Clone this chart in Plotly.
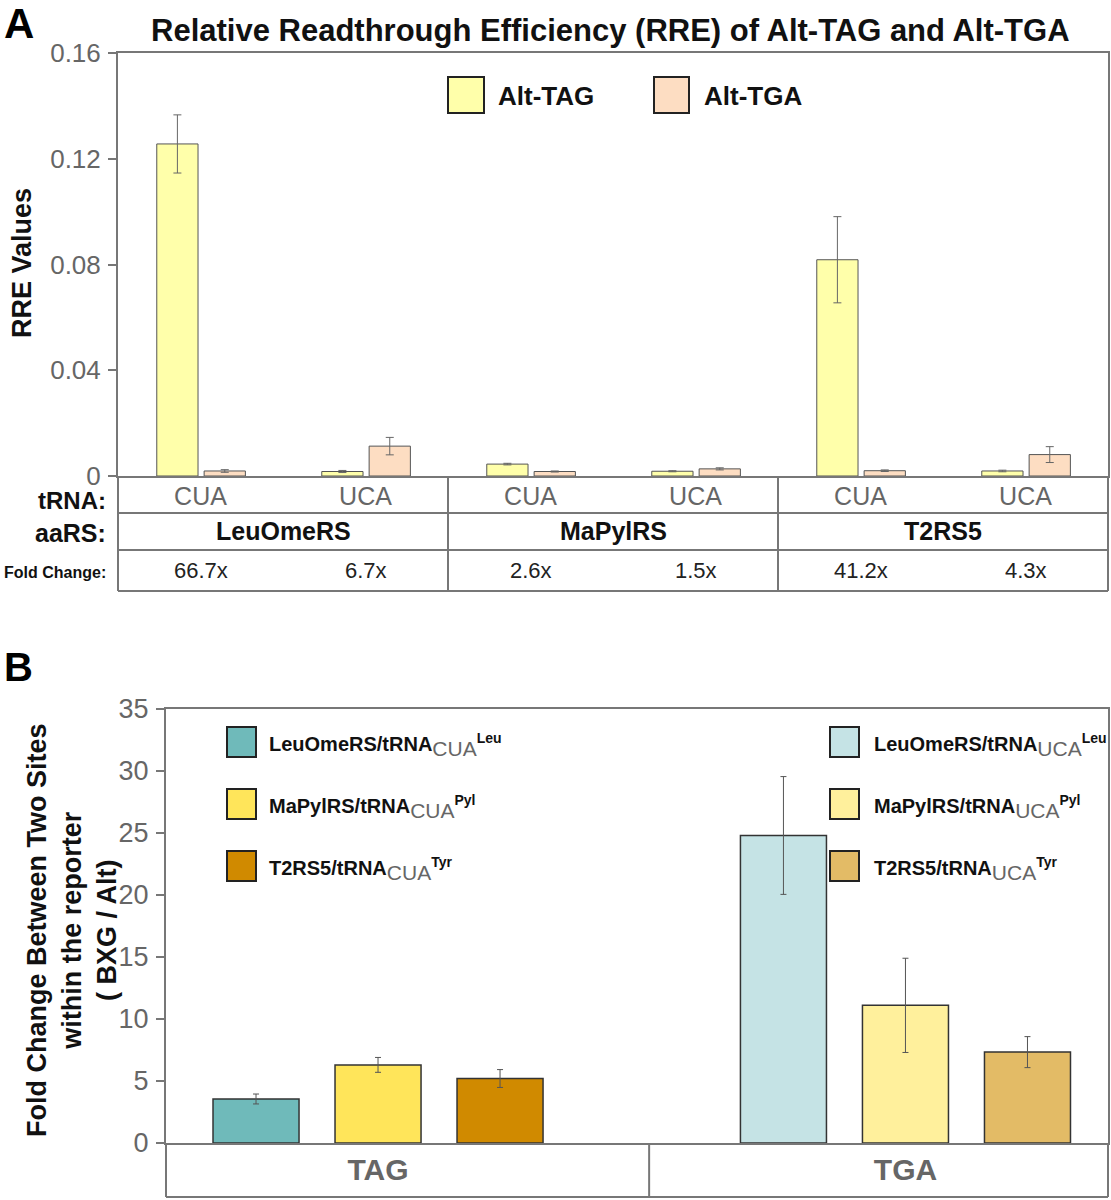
import plotly.graph_objects as go

W, H = 1111, 1200
FONT = "Liberation Sans, Arial, Helvetica, sans-serif"

# ---------------- Panel A data ----------------
aars_names = ["LeuOmeRS", "MaPylRS", "T2RS5"]
trna_labels = ["CUA", "UCA", "CUA", "UCA", "CUA", "UCA"]
conditions = ["LeuOmeRS CUA", "LeuOmeRS UCA", "MaPylRS CUA",
              "MaPylRS UCA", "T2RS5 CUA", "T2RS5 UCA"]
rre_tag = [0.1256, 0.0017, 0.0045, 0.0018, 0.0818, 0.0019]
rre_tag_err = [0.0110, 0.0004, 0.0003, 0.0002, 0.0163, 0.0003]
rre_tga = [0.0019, 0.0113, 0.0017, 0.0027, 0.0020, 0.0081]
rre_tga_err = [0.0005, 0.0033, 0.0002, 0.0004, 0.0003, 0.0030]
fold_change_a = ["66.7x", "6.7x", "2.6x", "1.5x", "41.2x", "4.3x"]
series_a = ["Alt-TAG", "Alt-TGA"]
colors_a = ["#FFFFAA", "#FDDDC2"]

# ---------------- Panel B data ----------------
codons = ["TAG", "TGA"]
enzymes = ["LeuOmeRS", "MaPylRS", "T2RS5"]
trna_aa = ["Leu", "Pyl", "Tyr"]
anticodon = ["CUA", "UCA"]
fold_tag = [3.55, 6.3, 5.2]
fold_tag_err = [0.40, 0.60, 0.72]
fold_tga = [24.8, 11.1, 7.33]
fold_tga_err = [4.75, 3.80, 1.25]
colors_tag = ["#6FBABA", "#FFE55A", "#D08A00"]
colors_tga = ["#C5E3E5", "#FFF09C", "#E3BB66"]

GRID = "#777777"
TICKC = "#666666"


def px(x):
    return x / W


def py(y):
    return 1 - y / H


fig = go.Figure()

# ---- Panel A bars ----
for vals, errs, name, col, off in [
    (rre_tag, rre_tag_err, series_a[0], colors_a[0], -0.265),
    (rre_tga, rre_tga_err, series_a[1], colors_a[1], 0.022),
]:
    fig.add_trace(go.Bar(
        x=conditions, y=vals, name=name, xaxis="x", yaxis="y",
        width=0.25, offset=off, showlegend=False,
        marker=dict(color=col, line=dict(color="#555555", width=1)),
        error_y=dict(type="data", array=errs, color="#666666", thickness=1, width=4),
    ))

# ---- Panel B bars ----
for i in range(3):
    for codon, vals, errs, cols, ac in [
        (codons[0], fold_tag, fold_tag_err, colors_tag, anticodon[0]),
        (codons[1], fold_tga, fold_tga_err, colors_tga, anticodon[1]),
    ]:
        fig.add_trace(go.Bar(
            x=[codon], y=[vals[i]], name=f"{enzymes[i]}/tRNA {ac} {trna_aa[i]}",
            xaxis="x2", yaxis="y2", offsetgroup=enzymes[i], showlegend=False,
            marker=dict(color=cols[i], line=dict(color="#333333", width=1.5)),
            error_y=dict(type="data", array=[errs[i]], color="#555555", thickness=1, width=3),
        ))

axis_common = dict(showline=True, linecolor=GRID, linewidth=2, mirror=True,
                   showgrid=False, zeroline=False, fixedrange=True, automargin=False)

shapes = []
annotations = []

# ---- Table for panel A ----
yA0, yA1, yA2, yA3 = 476, 513, 550, 591
xL, xR = 118, 1108
for yy in [yA1, yA2, yA3]:
    shapes.append(dict(type="line", xref="paper", yref="paper", x0=px(xL), x1=px(xR),
                       y0=py(yy), y1=py(yy), line=dict(color=GRID, width=2)))
for xx in [xL, xR]:
    shapes.append(dict(type="line", xref="paper", yref="paper", x0=px(xx), x1=px(xx),
                       y0=py(yA0), y1=py(yA3), line=dict(color=GRID, width=2)))
for k in [1.5, 3.5]:
    shapes.append(dict(type="line", xref="x", yref="paper", x0=k, x1=k,
                       y0=py(yA0), y1=py(yA3), line=dict(color=GRID, width=2)))

for txt, yy, sz in [("tRNA:", 500, 24), ("aaRS:", 533, 25), ("Fold Change:", 572, 16)]:
    annotations.append(dict(text=f"<b>{txt}</b>", xref="paper", yref="paper",
                            x=px(108), y=py(yy), xanchor="right", yanchor="middle",
                            showarrow=False, font=dict(size=sz, color="#111111")))
for i, nm in enumerate(aars_names):
    annotations.append(dict(text=f"<b>{nm}</b>", xref="x", yref="paper",
                            x=2 * i + 0.5, y=py(531), xanchor="center", yanchor="middle",
                            showarrow=False, font=dict(size=25, color="#111111")))
for cond, fc in zip(conditions, fold_change_a):
    annotations.append(dict(text=fc, xref="x", yref="paper", x=cond, y=py(570),
                            xanchor="center", yanchor="middle", showarrow=False,
                            font=dict(size=22, color="#222222")))

# ---- Legend for panel A ----
for (bx0, bx1), tx, name, col in [((448, 484), 496, series_a[0], colors_a[0]),
                                  ((654, 689), 702, series_a[1], colors_a[1])]:
    shapes.append(dict(type="rect", xref="paper", yref="paper", x0=px(bx0), x1=px(bx1),
                       y0=py(113), y1=py(77), fillcolor=col, line=dict(color="#222222", width=2)))
    annotations.append(dict(text=f"<b>{name}</b>", xref="paper", yref="paper", x=px(tx),
                            y=py(96), xanchor="left", yanchor="middle", showarrow=False,
                            font=dict(size=26, color="#111111")))

# ---- Titles / labels ----
annotations += [
    dict(text="<b>A</b>", xref="paper", yref="paper", x=px(19), y=py(23), xanchor="center",
         yanchor="middle", showarrow=False, font=dict(size=42, color="#000000")),
    dict(text="<b>B</b>", xref="paper", yref="paper", x=px(18), y=py(667), xanchor="center",
         yanchor="middle", showarrow=False, font=dict(size=40, color="#000000")),
    dict(text="<b>Relative Readthrough Efficiency (RRE) of Alt-TAG and Alt-TGA</b>",
         xref="paper", yref="paper", x=px(610), y=py(30), xanchor="center", yanchor="middle",
         showarrow=False, font=dict(size=31, color="#111111")),
    dict(text="<b>RRE Values</b>", xref="paper", yref="paper", x=px(22), y=py(263),
         xanchor="center", yanchor="middle", textangle=-90, showarrow=False,
         font=dict(size=27, color="#111111")),
    dict(text="<b>Fold Change Between Two Sites<br>within the reporter<br>( BXG / Alt)</b>",
         xref="paper", yref="paper", x=px(72), y=py(930), xanchor="center", yanchor="middle",
         textangle=-90, showarrow=False, align="center",
         font=dict(size=27, color="#111111")),
]

# ---- Table for panel B ----
yB0, yB1 = 1143, 1197
xBL, xBR = 166, 1108
shapes.append(dict(type="line", xref="paper", yref="paper", x0=px(xBL), x1=px(xBR),
                   y0=py(yB1), y1=py(yB1), line=dict(color=GRID, width=2)))
for xx in [xBL, xBR]:
    shapes.append(dict(type="line", xref="paper", yref="paper", x0=px(xx), x1=px(xx),
                       y0=py(yB0), y1=py(yB1), line=dict(color=GRID, width=2)))
shapes.append(dict(type="line", xref="x2", yref="paper", x0=0.514, x1=0.514,
                   y0=py(yB0), y1=py(yB1), line=dict(color=GRID, width=2)))

# ---- Legends for panel B ----
rows_y = [742, 804, 866]
for col_i, (bx0, tx, cols) in enumerate([(227, 267, colors_tag), (830, 872, colors_tga)]):
    for i in range(3):
        cy = rows_y[i]
        shapes.append(dict(type="rect", xref="paper", yref="paper", x0=px(bx0),
                           x1=px(bx0 + 29), y0=py(cy + 15), y1=py(cy - 15),
                           fillcolor=cols[i], line=dict(color="#222222", width=2)))
        label = (f"<b>{enzymes[i]}/tRNA</b><sub><span style='color:#666666;font-size:21px'>"
                 f"{anticodon[col_i]}</span></sub><sup><b>{trna_aa[i]}</b></sup>")
        annotations.append(dict(text=label, xref="paper", yref="paper", x=px(tx), y=py(cy + 3),
                                xanchor="left", yanchor="middle", showarrow=False,
                                font=dict(size=20, color="#111111")))

fig.update_layout(
    width=W, height=H,
    margin=dict(l=0, r=0, t=0, b=0, autoexpand=False),
    paper_bgcolor="white", plot_bgcolor="white",
    font=dict(family=FONT, color="#111111"),
    barmode="group", bargap=0.306, bargroupgap=0.295,
    showlegend=False,
    xaxis=dict(domain=[px(xL), px(xR)], anchor="y", type="category",
               categoryorder="array", categoryarray=conditions, range=[-0.5, 5.5],
               tickvals=conditions, ticktext=trna_labels, ticks="",
               tickfont=dict(size=25, color=TICKC), ticklabelstandoff=-3, **axis_common),
    yaxis=dict(domain=[py(yA0), py(53)], anchor="x", range=[0, 0.16], tick0=0, dtick=0.04,
               ticks="outside", ticklen=8, tickwidth=2, tickcolor=GRID,
               tickfont=dict(size=26, color=TICKC), ticklabelstandoff=2, **axis_common),
    xaxis2=dict(domain=[px(xBL), px(xBR)], anchor="y2", type="category",
                categoryorder="array", categoryarray=codons, range=[-0.402, 1.384],
                tickvals=codons, ticktext=[f"<b>{c}</b>" for c in codons], ticks="",
                tickfont=dict(size=30, color=TICKC), ticklabelstandoff=-1, **axis_common),
    yaxis2=dict(domain=[py(yB0), py(709)], anchor="x2", range=[0, 35], tick0=0, dtick=5,
                ticks="outside", ticklen=8, tickwidth=2, tickcolor=GRID,
                tickfont=dict(size=27, color=TICKC), ticklabelstandoff=2, **axis_common),
    shapes=shapes,
    annotations=annotations,
)

fig.write_html("out.html", config={"displayModeBar": False},
               post_script="document.body.style.margin='0px';")
